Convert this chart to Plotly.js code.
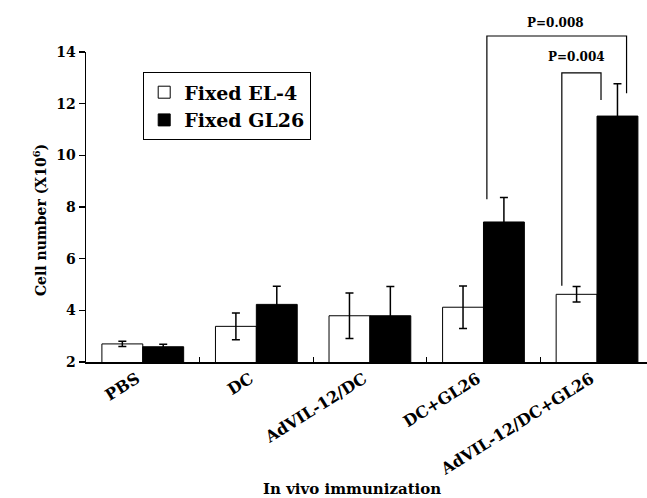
<!DOCTYPE html>
<html>
<head>
<meta charset="utf-8">
<script src="https://cdn.plot.ly/plotly-3.0.1.min.js"></script>
<style>html,body{margin:0;padding:0;background:#fff;}#chart{width:647px;height:498px;}</style>
</head>
<body>
<div id="chart"></div>
<script>
const categories = ["PBS", "DC", "AdVIL-12/DC", "DC+GL26", "AdVIL-12/DC+GL26"];
const el4Values = [2.70, 3.38, 3.79, 4.12, 4.62];
const el4Errors = [0.10, 0.52, 0.88, 0.82, 0.30];
const gl26Values = [2.59, 4.23, 3.79, 7.42, 11.52];
const gl26Errors = [0.10, 0.70, 1.13, 0.95, 1.25];
const seriesNames = ["Fixed EL-4", "Fixed GL26"];
const yTicks = [2, 4, 6, 8, 10, 12, 14];
const pLabels = ["P=0.008", "P=0.004"];
const pLabelX = [3.63, 3.82];
const pLabelY = [15.12, 13.81];
const bracketX = [[3.03, 3.03, 4.26, 4.26], [3.69, 3.69, 4.035, 4.035]];
const bracketY = [[8.3, 14.62, 14.62, 12.4], [4.95, 13.19, 13.19, 12.14]];

const Y_RANGE = [2, 14];
const serif = "DejaVu Serif, serif";
const toPaperY = v => (v - Y_RANGE[0]) / (Y_RANGE[1] - Y_RANGE[0]);

const traces = [
  {
    type: "bar", name: seriesNames[0], x: categories, y: el4Values,
    marker: {color: "#ffffff", line: {color: "#000000", width: 1}},
    error_y: {type: "data", array: el4Errors, visible: true, color: "#000000", thickness: 1.5, width: 4}
  },
  {
    type: "bar", name: seriesNames[1], x: categories, y: gl26Values,
    marker: {color: "#000000", line: {color: "#000000", width: 1}},
    error_y: {type: "data", array: gl26Errors, visible: true, color: "#000000", thickness: 1.5, width: 4}
  }
];

const shapes = bracketX.map((xs, i) => ({
  type: "path", xref: "x", yref: "paper",
  path: xs.map((x, j) => (j === 0 ? "M" : "L") + x + "," + toPaperY(bracketY[i][j])).join(" "),
  line: {color: "#000000", width: 1.2}
}));

const annotations = pLabels.map((t, i) => ({
  text: t, xref: "x", yref: "paper", x: pLabelX[i], y: toPaperY(pLabelY[i]),
  xanchor: "center", yanchor: "middle",
  showarrow: false, font: {family: serif, size: 12, color: "#000", weight: "bold"}
}));
annotations.push({
  text: "In vivo immunization", xref: "paper", yref: "paper", x: 0.474, y: -0.41,
  xanchor: "center", yanchor: "middle", showarrow: false,
  font: {family: serif, size: 15, color: "#000", weight: "bold"}
});
annotations.push({
  text: "Cell number (X10<sup>6</sup>)", xref: "paper", yref: "paper", x: -0.082, y: 0.458,
  xanchor: "center", yanchor: "middle", textangle: -90, showarrow: false,
  font: {family: serif, size: 14, color: "#000", weight: "bold"}
});

const layout = {
  width: 647, height: 498,
  margin: {l: 86, r: 0, t: 52, b: 136},
  paper_bgcolor: "#ffffff", plot_bgcolor: "#ffffff",
  barmode: "group", bargap: 0.28, bargroupgap: 0,
  font: {family: serif, color: "#000"},
  showlegend: true,
  legend: {
    x: 0.1016, y: 0.935, xanchor: "left", yanchor: "top",
    bordercolor: "#000000", borderwidth: 1.2, bgcolor: "#ffffff",
    font: {family: serif, size: 19, color: "#000", weight: "bold"},
    itemwidth: 30, tracegroupgap: 4
  },
  xaxis: {
    type: "category", range: [-0.5, 4.44],
    showline: true, linecolor: "#000", linewidth: 1.5,
    ticks: "inside", tickson: "boundaries", ticklen: 5, tickcolor: "#000", tickwidth: 1.2,
    tickangle: -32, ticklabelshift: -6, showgrid: false, zeroline: false,
    tickfont: {family: serif, size: 16, color: "#000", weight: "bold"}
  },
  yaxis: {
    range: Y_RANGE, tickvals: yTicks,
    showline: true, linecolor: "#000", linewidth: 1.5,
    ticks: "outside", ticklen: 6, tickcolor: "#000", tickwidth: 1.2,
    showgrid: false, zeroline: false,
    tickfont: {family: serif, size: 14, color: "#000", weight: "bold"}
  },
  shapes: shapes,
  annotations: annotations
};

Plotly.newPlot("chart", traces, layout, {displayModeBar: false, staticPlot: true});
</script>
</body>
</html>
